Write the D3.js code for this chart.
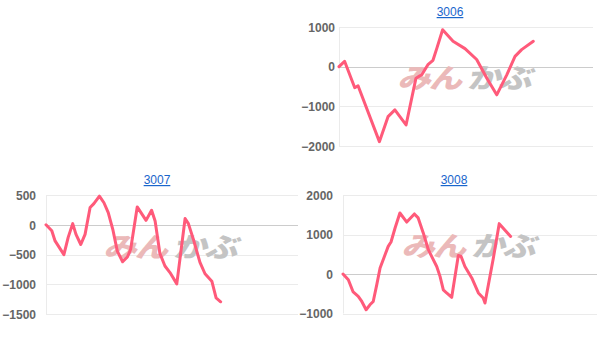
<!DOCTYPE html>
<html><head><meta charset="utf-8">
<script src="https://cdn.jsdelivr.net/npm/d3@7"></script>
<style>
html,body{margin:0;padding:0;background:#fff;}
svg{display:block;}
</style></head>
<body>
<svg id="c" width="607" height="337"></svg>
<script>
// ---- data (x = trading-day position, value = P/L) ----
const titles = ["3006", "3007", "3008"];

const days3006 = [0, 2.2, 6.2, 7.5, 15.9, 19.3, 22.0, 26.4, 30.3, 32.6, 35.0, 37.0, 38.6, 40.8, 44.9, 49.6, 54.2, 58.2, 62.1, 66.1, 69.3, 71.9, 76.5];
const vals3006 = [0, 135, -530, -480, -1890, -1260, -1090, -1470, -290, -200, 50, 160, 480, 930, 640, 455, 180, -290, -710, -200, 260, 430, 640];

const days3007 = [0, 2.3, 3.6, 7.1, 8.8, 10.6, 11.9, 13.8, 15.5, 17.5, 19.0, 21.2, 23.0, 24.7, 26.5, 28.3, 30.4, 32.3, 33.6, 36.2, 39.7, 41.9, 43.3, 45.2, 47.2, 49.2, 51.9, 55.2, 56.5, 58.5, 61.1, 63.1, 65.8, 67.5, 69.3];
const vals3007 = [0, -100, -270, -500, -210, 20, -160, -330, -160, 290, 355, 480, 370, 205, -75, -440, -620, -540, -410, 300, 75, 245, 65, -480, -690, -800, -990, 105, 20, -245, -630, -820, -945, -1225, -1290];

const days3008 = [0, 2.1, 4.0, 6.0, 7.4, 9.1, 10.6, 11.9, 13.3, 14.6, 16.3, 17.8, 18.9, 20.5, 22.4, 25.1, 28.1, 29.6, 31.6, 33.6, 34.9, 36.9, 38.2, 39.5, 40.8, 42.8, 45.4, 46.5, 48.0, 50.7, 53.3, 55.2, 55.9, 59.2, 61.5, 66.0];
const vals3008 = [0, -145, -455, -565, -695, -905, -780, -695, -270, 150, 445, 700, 810, 1165, 1545, 1315, 1520, 1420, 1040, 615, 445, 190, -60, -400, -480, -590, 470, 445, 190, -100, -480, -610, -735, 405, 1275, 950];

const ticks3006 = [-2000, -1000, 0, 1000];
const ticks3007 = [-1500, -1000, -500, 0, 500];
const ticks3008 = [-1000, 0, 1000, 2000];

// ---- layout ----
const panels = [
  {title: titles[0], days: days3006, vals: vals3006, ticks: ticks3006, dom: [-2000, 1000],
   l: 339, r: 593, t: 27, b: 146, titleX: 450, titleY: 16, labelX: 335},
  {title: titles[1], days: days3007, vals: vals3007, ticks: ticks3007, dom: [-1500, 500],
   l: 46, r: 298, t: 195, b: 314.3, titleX: 157, titleY: 184, labelX: 36},
  {title: titles[2], days: days3008, vals: vals3008, ticks: ticks3008, dom: [-1000, 2000],
   l: 343, r: 597, t: 195, b: 313.5, titleX: 454, titleY: 184, labelX: 333}
];

const svg = d3.select("#c");

panels.forEach(p => {
  const g = svg.append("g");
  const x = d3.scaleLinear().domain([0, 100]).range([p.l, p.r]);
  const y = d3.scaleLinear().domain(p.dom).range([p.b, p.t]);

  // gridlines
  g.selectAll("line.grid").data(p.ticks).enter().append("line")
    .attr("x1", p.l).attr("x2", p.r)
    .attr("y1", d => Math.round(y(d)) + 0.5).attr("y2", d => Math.round(y(d)) + 0.5)
    .attr("stroke", d => d === 0 ? "#cccccc" : "#ebebeb").attr("stroke-width", 1);
  // left axis line
  g.append("line").attr("x1", p.l + 0.5).attr("x2", p.l + 0.5)
    .attr("y1", p.t).attr("y2", p.b).attr("stroke", "#ebebeb");

  // tick labels via d3 axis
  const ax = g.append("g").attr("transform", `translate(${p.labelX},0)`)
    .call(d3.axisLeft(y).tickValues(p.ticks).tickSize(0).tickPadding(0).tickFormat(d3.format("d")));
  ax.select(".domain").remove();
  ax.selectAll("text").attr("font-family", "Liberation Sans, Arial, sans-serif")
    .attr("font-size", 12).attr("font-weight", "bold").attr("fill", "#666").attr("dy", "0.35em");

  // title
  g.append("text").attr("x", p.titleX).attr("y", p.titleY).attr("text-anchor", "middle")
    .attr("font-family", "Liberation Sans, Arial, sans-serif").attr("font-size", 12)
    .attr("fill", "#1a66cc").attr("text-decoration", "underline").text(p.title);

  // watermark
  const cx = (p.l + p.r) / 2, cy = (p.t + p.b) / 2 - 8;
  const wm = g.append("g").attr("transform", `translate(${cx},${cy}) skewX(-14) scale(1.12,0.9)`);
  wm.append("text").attr("x", -3).attr("y", 11).attr("text-anchor", "end")
    .attr("font-family", "Noto Sans CJK JP").attr("font-weight", 900).attr("font-size", 30)
    .attr("letter-spacing", -2)
    .attr("fill", "#ebb9b9").text("みん");
  wm.append("text").attr("x", 3).attr("y", 11).attr("text-anchor", "start")
    .attr("font-family", "Noto Sans CJK JP").attr("font-weight", 900).attr("font-size", 30)
    .attr("letter-spacing", -2)
    .attr("fill", "#c4c4c4").text("かぶ");

  // line
  const pts = p.days.map((d, i) => [d, p.vals[i]]);
  g.append("path").datum(pts)
    .attr("fill", "none").attr("stroke", "#ff5a7a").attr("stroke-width", 3)
    .attr("stroke-linejoin", "round").attr("stroke-linecap", "round")
    .attr("d", d3.line().x(d => x(d[0])).y(d => y(d[1])));
});
</script>
</body></html>
